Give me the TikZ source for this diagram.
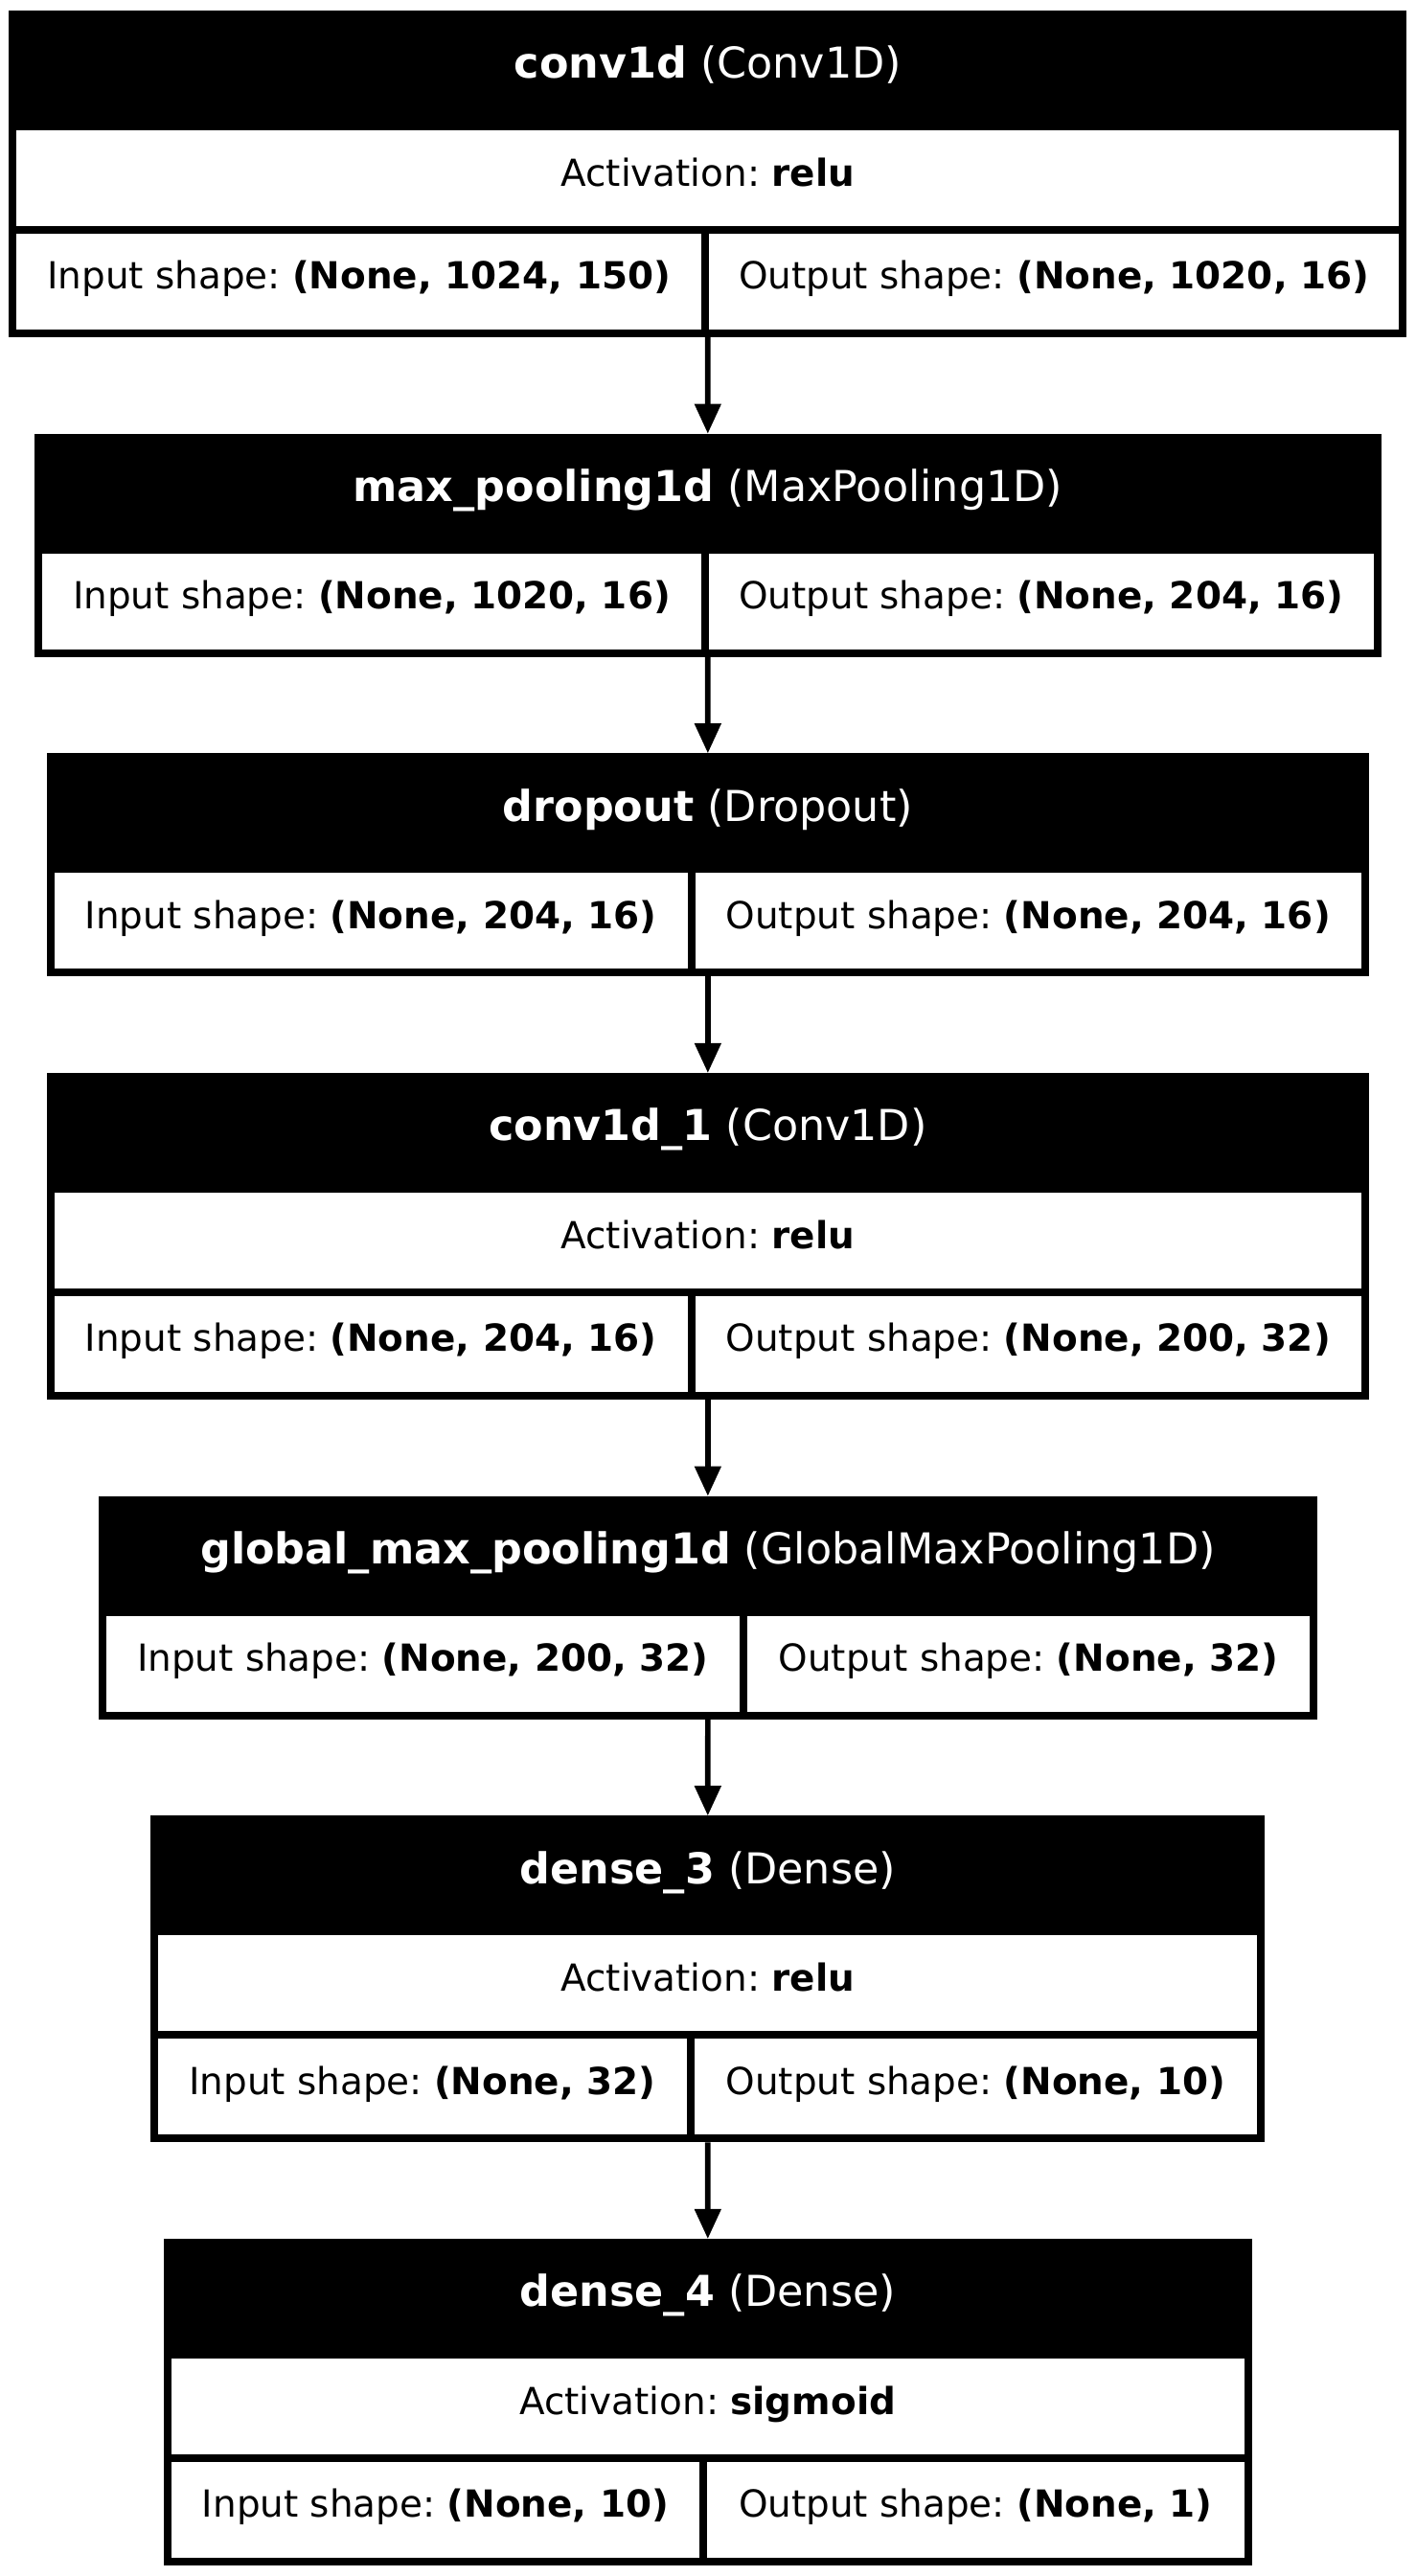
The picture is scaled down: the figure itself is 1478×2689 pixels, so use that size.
\documentclass[tikz,border=0pt]{standalone}
\usepackage{fontspec}
\setmainfont{DejaVu Sans}
\usetikzlibrary{arrows.meta}
\frenchspacing
\newcommand{\pxu}{0.36pt}
\tikzset{
  outerbox/.style={rectangle, fill=black, draw=none, inner sep=0pt, outer sep=0pt},
  cellbox/.style={rectangle, fill=white, draw=none, inner sep=0pt, outer sep=0pt, anchor=north west},
  hdrtext/.style={text=white, font=\fontsize{16pt}{19pt}\selectfont, inner sep=0pt, anchor=base},
  bodytext/.style={text=black, font=\fontsize{14pt}{17pt}\selectfont, inner sep=0pt, anchor=base},
  flow/.style={line width=2.05pt, -{Triangle[length=11.2pt,width=9.6pt]}},
}
% #1 name, #2 left, #3 right, #4 top, #5 divider, #6 header, #7 activation, #8 input, #9 output
\newcommand{\layerbox}[9]{%
  \if\relax\detokenize{#7}\relax
    \def\lbH{233}\def\lbS{125}\def\lbB{182.7}%
  \else
    \def\lbH{341}\def\lbS{233}\def\lbB{290.7}%
  \fi
  \node[outerbox, anchor=north west, minimum width={(#3-#2)*\pxu}, minimum height={\lbH*\pxu}] (#1) at (#2,#4) {};
  \node[hdrtext] (#1-t) at ({(#2+#3)/2},{#4+70.7}) {#6};
  \if\relax\detokenize{#7}\relax\else
    \node[cellbox, minimum width={(#3-#2-16)*\pxu}, minimum height={100*\pxu}] (#1-a) at ({#2+8},{#4+125}) {};
    \node[bodytext] (#1-at) at ({(#2+#3)/2},{#4+183}) {Activation: \textbf{#7}};
  \fi
  \node[cellbox, minimum width={(#5-#2-12)*\pxu}, minimum height={100*\pxu}] (#1-i) at ({#2+8},{#4+\lbS}) {};
  \node[cellbox, minimum width={(#3-#5-12)*\pxu}, minimum height={100*\pxu}] (#1-o) at ({#5+4},{#4+\lbS}) {};
  \node[bodytext] (#1-it) at ({(#2+#5+4)/2},{#4+\lbB}) {#8};
  \node[bodytext] (#1-ot) at ({(#5+#3-4)/2},{#4+\lbB}) {#9};
}
\begin{document}
\begin{tikzpicture}[x=0.36pt, y=-0.36pt]
\useasboundingbox[fill=white] (0,0) rectangle (1478,2689);
\layerbox{b1}{9.3}{1468.3}{11}{736}{\textbf{conv1d} (Conv1D)}{relu}{Input shape: \textbf{(None, 1024, 150)}}{Output shape: \textbf{(None, 1020, 16)}}
\layerbox{b2}{36}{1441.6}{452.7}{736}{\textbf{max\_pooling1d} (MaxPooling1D)}{}{Input shape: \textbf{(None, 1020, 16)}}{Output shape: \textbf{(None, 204, 16)}}
\layerbox{b3}{48.7}{1429}{786.3}{721.5}{\textbf{dropout} (Dropout)}{}{Input shape: \textbf{(None, 204, 16)}}{Output shape: \textbf{(None, 204, 16)}}
\layerbox{b4}{48.7}{1429}{1120}{721.5}{\textbf{conv1d\_1} (Conv1D)}{relu}{Input shape: \textbf{(None, 204, 16)}}{Output shape: \textbf{(None, 200, 32)}}
\layerbox{b5}{102.7}{1375}{1561.7}{776}{\textbf{global\_max\_pooling1d} (GlobalMaxPooling1D)}{}{Input shape: \textbf{(None, 200, 32)}}{Output shape: \textbf{(None, 32)}}
\layerbox{b6}{157.3}{1320.3}{1895.3}{720.5}{\textbf{dense\_3} (Dense)}{relu}{Input shape: \textbf{(None, 32)}}{Output shape: \textbf{(None, 10)}}
\layerbox{b7}{171}{1306.6}{2337}{734}{\textbf{dense\_4} (Dense)}{sigmoid}{Input shape: \textbf{(None, 10)}}{Output shape: \textbf{(None, 1)}}
\draw[flow] (b1.south) -- (b2.north);
\draw[flow] (b2.south) -- (b3.north);
\draw[flow] (b3.south) -- (b4.north);
\draw[flow] (b4.south) -- (b5.north);
\draw[flow] (b5.south) -- (b6.north);
\draw[flow] (b6.south) -- (b7.north);
\end{tikzpicture}
\end{document}
